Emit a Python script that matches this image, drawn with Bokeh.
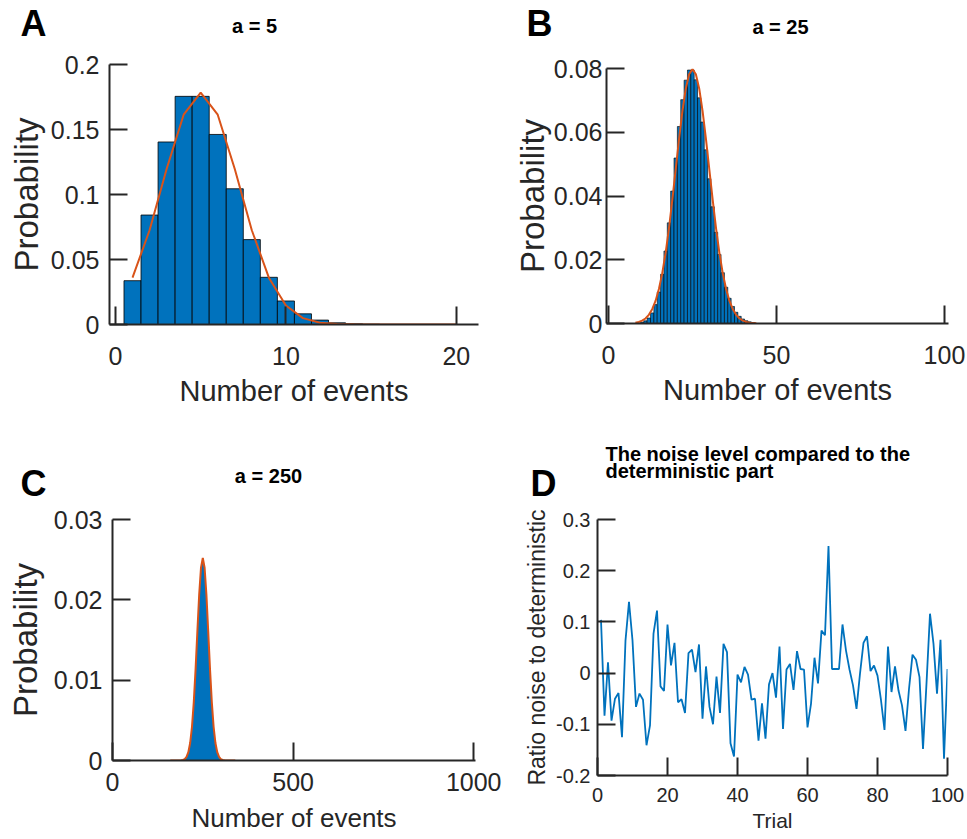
from bokeh.plotting import figure
from bokeh.layouts import row, column
from bokeh.models import Range1d, FixedTicker, Label
from bokeh.embed import file_html
from bokeh.resources import INLINE

FONT = "Liberation Sans"
AX = "#262626"
BLUE = "#0072BD"
ORANGE = "#D95319"

# ---------------- data ----------------
# Panel A (a = 5)
a_bins = [1, 2, 3, 4, 5, 6, 7, 8, 9, 10, 11, 12, 13, 14, 15]
a_prob = [0.0337, 0.0842, 0.1404, 0.1755, 0.1755, 0.1462, 0.1044, 0.0653,
          0.0363, 0.0181, 0.0082, 0.0034, 0.0013, 0.0005, 0.0002]
a_fit_x = [1, 2, 3, 4, 5, 6, 7, 8, 9, 10, 11, 12, 13, 14, 15, 16, 17, 18, 19, 20]
a_fit_y = [0.0360, 0.0725, 0.1196, 0.1614, 0.1784, 0.1614, 0.1196, 0.0725, 0.0360,
           0.0146, 0.0049, 0.0013, 0.0003, 0.0001, 0.0, 0.0, 0.0, 0.0, 0.0, 0.0]

# Panel B (a = 25)
b_bins = list(range(10, 44))
b_prob = [0.00036, 0.00083, 0.00173, 0.00332, 0.00593, 0.00989, 0.01545, 0.02273,
          0.03157, 0.04153, 0.05192, 0.06180, 0.07023, 0.07634, 0.07952, 0.07952,
          0.07646, 0.07080, 0.06321, 0.05449, 0.04541, 0.03662, 0.02861, 0.02167,
          0.01594, 0.01138, 0.00791, 0.00534, 0.00351, 0.00225, 0.00141, 0.00086,
          0.00051, 0.00030]
b_fit_x = list(range(8, 45))
b_fit_y = [0.00025, 0.00048, 0.00089, 0.00158, 0.00272, 0.00448, 0.00709, 0.01080,
           0.01579, 0.02218, 0.02995, 0.03884, 0.04839, 0.05794, 0.06665, 0.07366,
           0.07821, 0.07979, 0.07821, 0.07366, 0.06665, 0.05794, 0.04839, 0.03884,
           0.02995, 0.02218, 0.01579, 0.01080, 0.00709, 0.00448, 0.00272, 0.00158,
           0.00089, 0.00048, 0.00025, 0.00012, 0.00006]

# Panel C (a = 250)
c_bins = [195, 200, 205, 210, 215, 220, 225, 230, 235, 240, 245, 250, 255, 260,
          265, 270, 275, 280, 285, 290, 295, 300, 305]
c_prob = [0.00004, 0.00014, 0.00038, 0.00094, 0.00208, 0.00412, 0.00729, 0.01155,
          0.01643, 0.02102, 0.02423, 0.02521, 0.02377, 0.02030, 0.01575, 0.01113,
          0.00717, 0.00422, 0.00228, 0.00112, 0.00050, 0.00020, 0.00007]
c_fit_x = [160, 170, 180, 190, 195, 200, 205, 210, 215, 220, 225, 230, 235, 240, 245,
           250, 255, 260, 265, 270, 275, 280, 285, 290, 295, 300, 305, 310, 320,
           330, 340]
c_fit_y = [0.0, 0.0, 0.0, 0.00002, 0.00006, 0.00017, 0.00044, 0.00103, 0.00218,
           0.00417, 0.00723, 0.01134, 0.01609, 0.02066, 0.02400, 0.02523, 0.02400,
           0.02066, 0.01609, 0.01134, 0.00723, 0.00417, 0.00218, 0.00103, 0.00044,
           0.00017, 0.00006, 0.00002, 0.0, 0.0, 0.0]

# Panel D (noise ratio per trial)
d_trial = list(range(1, 101))
d_ratio = [0.104, -0.083, 0.021, -0.093, -0.050, -0.039, -0.125, 0.064, 0.139, 0.064,
           -0.066, -0.040, -0.052, -0.141, -0.102, 0.077, 0.122, -0.026, -0.035, 0.095,
           0.015, 0.059, -0.057, -0.051, -0.078, 0.039, 0.046, 0.002, 0.056, -0.089,
           0.013, -0.066, -0.100, -0.007, -0.078, 0.057, 0.041, -0.137, -0.163, -0.003,
           -0.018, 0.012, -0.003, -0.052, -0.050, -0.132, -0.059, -0.128, -0.022, 0.000,
           -0.048, 0.052, -0.109, 0.007, 0.018, -0.033, 0.043, 0.008, 0.007, -0.106,
           -0.060, 0.030, -0.020, 0.083, 0.074, 0.248, 0.008, 0.008, 0.008, 0.095,
           0.044, 0.007, -0.024, -0.070, -0.001, 0.059, 0.072, 0.004, 0.015, -0.005,
           -0.053, -0.111, 0.052, -0.037, 0.013, -0.034, -0.063, -0.113, -0.031, 0.036,
           0.026, -0.008, -0.148, -0.020, 0.116, 0.057, -0.040, 0.065, -0.167, 0.008]

a_xticks = [0, 10, 20]
a_yticks = [0, 0.05, 0.1, 0.15, 0.2]
a_ylabels = ["0", "0.05", "0.1", "0.15", "0.2"]
b_xticks = [0, 50, 100]
b_yticks = [0, 0.02, 0.04, 0.06, 0.08]
b_ylabels = ["0", "0.02", "0.04", "0.06", "0.08"]
c_xticks = [0, 500, 1000]
c_yticks = [0, 0.01, 0.02, 0.03]
c_ylabels = ["0", "0.01", "0.02", "0.03"]
d_xticks = [0, 20, 40, 60, 80, 100]
d_yticks = [-0.2, -0.1, 0, 0.1, 0.2, 0.3]
d_ylabels = ["-0.2", "-0.1", "0", "0.1", "0.2", "0.3"]


def no_align(p):
    if "frame_align" in p.properties():
        p.frame_align = False


def make_fig(w, h, bl, br, bt, bb, xr, yr, xticks, yticks, ylabels,
             xlabel, ylabel, tick_fs, xl_fs, yl_fs,
             x_std, x_lstd, y_std, y_lstd):
    p = figure(width=w, height=h,
               min_border_left=bl, min_border_right=br,
               min_border_top=bt, min_border_bottom=bb,
               x_range=Range1d(*xr), y_range=Range1d(*yr), title=None,
               output_backend="svg", toolbar_location=None, tools="")
    no_align(p)
    p.outline_line_color = None
    p.grid.visible = False
    p.background_fill_color = "white"
    p.border_fill_color = "white"
    for ax in (p.xaxis[0], p.yaxis[0]):
        ax.axis_line_width = 2
        ax.axis_line_color = AX
        ax.major_tick_line_width = 2
        ax.major_tick_line_color = AX
        ax.major_tick_in = 18
        ax.major_tick_out = 0
        ax.minor_tick_line_color = None
        ax.major_label_text_font = FONT
        ax.major_label_text_font_size = f"{tick_fs}px"
        ax.major_label_text_color = AX
        ax.axis_label_text_font = FONT
        ax.axis_label_text_font_style = "normal"
        ax.axis_label_text_color = AX
    xa, ya = p.xaxis[0], p.yaxis[0]
    xa.ticker = FixedTicker(ticks=xticks)
    xa.major_label_overrides = {t: str(t) for t in xticks}
    ya.ticker = FixedTicker(ticks=yticks)
    ya.major_label_overrides = {t: s for t, s in zip(yticks, ylabels)}
    xa.axis_label = xlabel
    ya.axis_label = ylabel
    xa.axis_label_text_font_size = f"{xl_fs}px"
    ya.axis_label_text_font_size = f"{yl_fs}px"
    xa.major_label_standoff = x_std
    xa.axis_label_standoff = x_lstd
    ya.major_label_standoff = y_std
    ya.axis_label_standoff = y_lstd
    return p


def make_header(w, h):
    p = figure(width=w, height=h, x_range=Range1d(0, w), y_range=Range1d(h, 0),
               x_axis_type=None, y_axis_type=None, min_border=0, title=None,
               output_backend="svg", toolbar_location=None, tools="")
    no_align(p)
    p.outline_line_color = None
    p.background_fill_color = "white"
    p.border_fill_color = "white"
    return p


def add_text(p, x, baseline, text, size, align="center"):
    # Bokeh draws the alphabetic baseline about 0.4 em below the anchor
    p.add_layout(Label(x=x, y=baseline - 0.4 * size, x_units="data", y_units="data",
                       text=text, text_font=FONT, text_font_size=f"{size}px",
                       text_font_style="bold", text_color="black",
                       text_align=align, text_baseline="alphabetic"))


# ---------------- header strips (panel letters and titles) ----------------
h1 = make_header(967, 48)
add_text(h1, 33, 37, "A", 36)
add_text(h1, 254, 33, "a = 5", 20)
add_text(h1, 539, 37, "B", 36)
add_text(h1, 780, 34, "a = 25", 20)

h2 = make_header(967, 76)
add_text(h2, 33, 67, "C", 36)
add_text(h2, 268, 53, "a = 250", 20)
add_text(h2, 543, 67, "D", 36)
add_text(h2, 605, 31, "The noise level compared to the", 20, align="left")
add_text(h2, 605, 48, "deterministic part", 20, align="left")

# ---------------- Panel A ----------------
pA = make_fig(510, 382, 109, 32, 16, 106, (-0.35, 21.3), (0, 0.2),
              a_xticks, a_yticks, a_ylabels, "Number of events", "Probability",
              25, 29, 33, 22, 7, 10, 3)
pA.vbar(x=a_bins, top=a_prob, width=1.0, bottom=0, fill_color=BLUE,
        line_color="black", line_width=0.8)
pA.line(a_fit_x, a_fit_y, line_color=ORANGE, line_width=2)

# ---------------- Panel B ----------------
pB = make_fig(457, 382, 94, 19, 20, 107, (-0.6, 101.2), (0, 0.08),
              b_xticks, b_yticks, b_ylabels, "Number of events", "Probability",
              25, 29, 33, 22, 7, 4, 0)
pB.vbar(x=b_bins, top=b_prob, width=1.0, bottom=0, fill_color=BLUE,
        line_color="black", line_width=0.6)
pB.line(b_fit_x, b_fit_y, line_color=ORANGE, line_width=2)

# ---------------- Panel C ----------------
pC = make_fig(510, 332, 112, 35, 13, 78, (0, 1005), (0, 0.03),
              c_xticks, c_yticks, c_ylabels, "Number of events", "Probability",
              25, 26, 33, 12, 9, 10, 7)
pC.varea(x=c_bins, y1=[0] * len(c_bins), y2=c_prob, fill_color=BLUE)
pC.line(c_fit_x, c_fit_y, line_color=ORANGE, line_width=2)

# ---------------- Panel D ----------------
pD = make_fig(457, 332, 87, 20, 13, 63, (0, 100), (-0.2, 0.3),
              d_xticks, d_yticks, d_ylabels, "Trial", "Ratio noise to deterministic",
              20, 21, 23, 12, 4, 7, 3)
pD.line(d_trial, d_ratio, line_color=BLUE, line_width=1.8)

layout = column(h1, row(pA, pB), h2, row(pC, pD))

open("out.html", "w").write(file_html(layout, INLINE))
